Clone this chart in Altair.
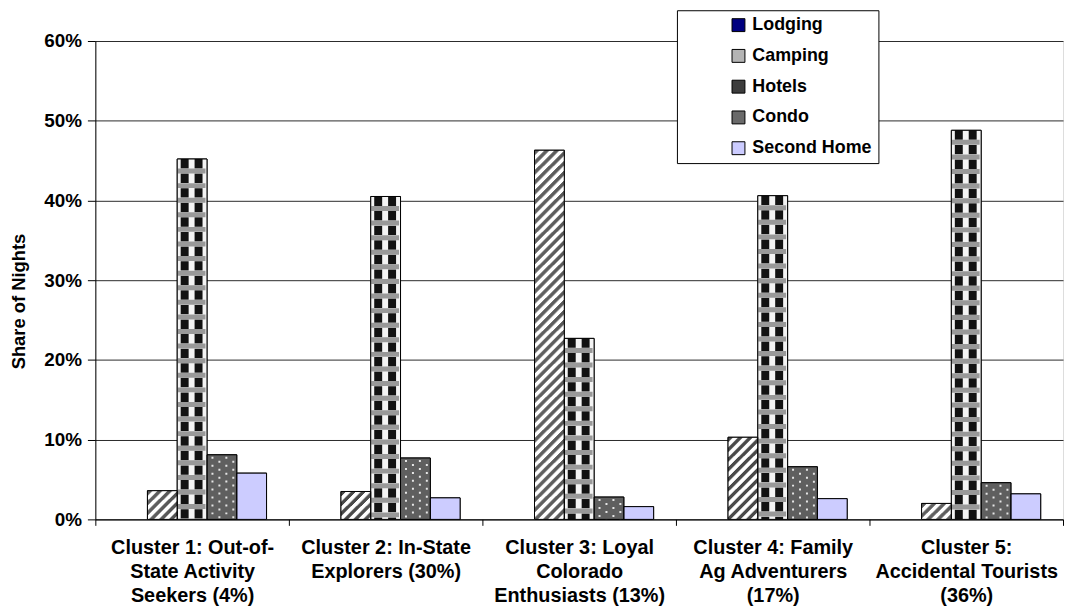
import altair as alt
import pandas as pd

clusters = [
    "Cluster 1: Out-of-\nState Activity\nSeekers (4%)",
    "Cluster 2:  In-State\nExplorers (30%)",
    "Cluster 3: Loyal\nColorado\nEnthusiasts (13%)",
    "Cluster 4: Family\nAg Adventurers\n(17%)",
    "Cluster 5:\nAccidental Tourists\n(36%)",
]
series = ["Lodging", "Camping", "Hotels", "Condo", "Second Home"]
lodging = [0.0, 0.0, 0.0, 0.0, 0.0]
camping = [0.036, 0.035, 0.463, 0.103, 0.020]
hotels = [0.452, 0.405, 0.227, 0.406, 0.488]
condo = [0.081, 0.077, 0.028, 0.066, 0.046]
second_home = [0.058, 0.027, 0.016, 0.026, 0.032]
y_ticks = [0.0, 0.1, 0.2, 0.3, 0.4, 0.5, 0.6]

values = {"Lodging": lodging, "Camping": camping, "Hotels": hotels,
          "Condo": condo, "Second Home": second_home}
rows = []
for s in series:
    for c, v in zip(clusters, values[s]):
        rows.append({"cluster": c, "series": s, "value": v})
df = pd.DataFrame(rows)

FONT = "Liberation Sans"
BAR_SLOTS = 30
PAD_SLOTS = 22
slots = ([f"padL_{i}" for i in range(PAD_SLOTS)]
         + [f"{s}_{i}" for s in series for i in range(BAR_SLOTS)]
         + [f"padR_{i}" for i in range(PAD_SLOTS)])

base_fill = ["#000080", "#ffffff", "#f4f4f4", "#5f5f5f", "#ccccff"]
legend_fill = ["#000080", "#b4b4b4", "#3c3c3c", "#6a6a6a", "#ccccff"]

x_enc = alt.X(
    "cluster:N", sort=clusters,
    scale=alt.Scale(domain=clusters, paddingInner=0, paddingOuter=0),
    axis=alt.Axis(
        title=None, labelAngle=0, labelExpr="split(datum.label, '\\n')",
        labelFont=FONT, labelFontSize=20, labelFontWeight="bold", labelColor="black",
        labelLineHeight=24, labelPadding=12.5, labelLimit=300,
        tickBand="extent", tickSize=6, tickColor="black", domainColor="black",
        grid=False,
    ),
)
y_enc = alt.Y(
    "value:Q", stack=None,
    scale=alt.Scale(domain=[0, 0.6], nice=False),
    axis=alt.Axis(
        values=y_ticks, format=".0%", title="Share of Nights",
        labelFont=FONT, labelFontSize=19, labelFontWeight="bold", labelColor="black",
        labelPadding=6, tickSize=8, tickColor="black", domainColor="black",
        grid=True, gridColor="#2a2a2a", gridWidth=1,
        titleFont=FONT, titleFontSize=18.5, titleFontWeight="bold", titleColor="black",
        titleX=-77, titleY=262, titleBaseline="middle", titleAlign="center",
    ),
)
coarse_off = alt.XOffset("series:N", sort=series,
                         scale=alt.Scale(domain=series, paddingInner=0, paddingOuter=0.75))
fine_off = alt.XOffset("slot:N",
                       scale=alt.Scale(domain=slots, paddingInner=0, paddingOuter=0.5))

base = alt.Chart(df)

# legend carrier: drawn first and fully covered by the textured bars above it
legend_layer = base.transform_filter("datum.value > 0").mark_bar(
    stroke="black", strokeWidth=1
).encode(
    x=x_enc, xOffset=coarse_off, y=y_enc,
    color=alt.Color("series:N", scale=alt.Scale(domain=series, range=legend_fill),
                    legend=alt.Legend(
                        title=None, orient="none", legendX=586, legendY=-31,
                        direction="vertical",
                        labelFont=FONT, labelFontSize=18, labelFontWeight="bold",
                        labelColor="black", labelOffset=5,
                        symbolType="square", symbolSize=169, symbolStrokeColor="black",
                        symbolStrokeWidth=1, symbolOffset=47,
                        rowPadding=13, padding=6,
                        fillColor="white", strokeColor="black",
                    )),
)

bars = base.transform_filter("datum.value > 0").mark_bar().encode(
    x=x_enc, xOffset=coarse_off, y=y_enc,
    color=alt.Color("series:N", scale=alt.Scale(domain=series, range=base_fill), legend=None),
)

def texture(name, cols_expr, **mark):
    return base.transform_filter(f"datum.series == '{name}' && datum.value > 0").transform_calculate(
        col=cols_expr
    ).transform_flatten(["col"]).transform_calculate(
        slot="datum.series + '_' + datum.col"
    ).mark_rule(**mark).encode(
        x=x_enc, xOffset=fine_off, y=y_enc, y2=alt.datum(0)
    )

camp_tex = texture("Camping", "sequence(0, 30)", color="#4a4a4a", strokeWidth=1.3,
                   strokeDash=[4.5, 5.5], strokeDashOffset={"expr": "datum.col"})
hotel_black = texture("Hotels", "[7, 21]", color="#121212", strokeWidth=8,
                      strokeDash=[9.5, 5.2])
hotel_gray = texture("Hotels", "[14]", color="#999999", strokeWidth=28,
                     strokeDash=[5, 9.7], strokeDashOffset=5.1)
condo_dots = texture("Condo", "[5, 12, 19, 26]", color="#e6e6e6", strokeWidth=2,
                     strokeDash=[2, 6],
                     strokeDashOffset={"expr": "(datum.col % 14 == 5) ? 6 : 2"})

outline = base.transform_filter("datum.value > 0").mark_bar(
    fillOpacity=0, stroke="black", strokeWidth=1
).encode(
    x=x_enc, xOffset=coarse_off, y=y_enc,
)

chart = alt.layer(
    legend_layer, bars, camp_tex, hotel_black, hotel_gray, condo_dots, outline
).resolve_scale(xOffset="independent", color="independent").properties(
    width=975, height=482,
    padding={"left": 88, "top": 31, "right": 2, "bottom": 85},
    autosize=alt.AutoSizeParams(type="none"),
).configure_view(stroke="#808080", strokeWidth=1).configure(background="white")

chart.save("out.html", embed_options={"renderer": "svg", "actions": False})
